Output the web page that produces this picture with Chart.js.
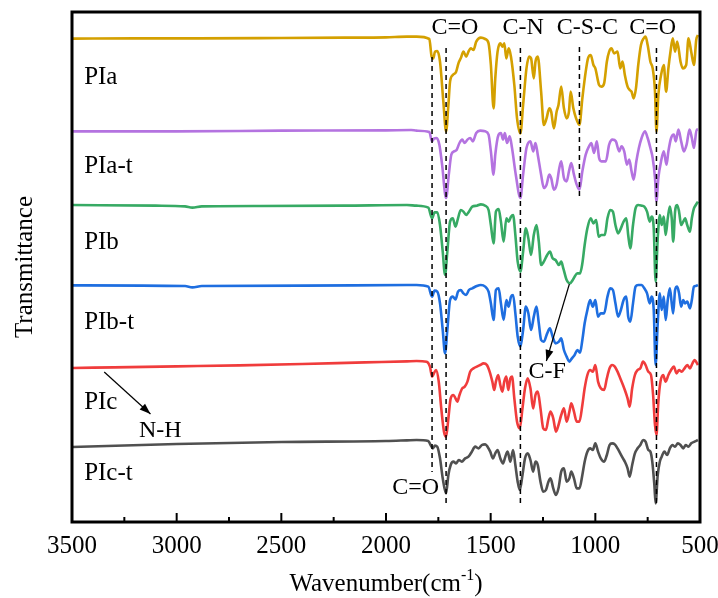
<!DOCTYPE html>
<html lang="en">
<head>
    <meta charset="UTF-8">
    <title>FTIR spectra PIa - PIc-t</title>
    <script src="https://cdn.jsdelivr.net/npm/chart.js@4.4.0/dist/chart.umd.min.js"></script>
    <style>
        * { margin: 0; padding: 0; box-sizing: border-box; }
        body { background: #fff; }
        #wrap { width: 718px; height: 598px; }
    </style>
</head>
<body>
    <div id="wrap"><canvas id="ftir" width="718" height="598"></canvas></div>

    <script>
        // wavenumbers (cm-1) and transmittance (a.u., before stacking offset)
        const wnPIa = [3500,3200,2900,2500,2200,2000,1900,1854,1793,1782,1774,1766,1755,1742,1726,1713,1702,1694,1681,1665,1654,1643,1630,1617,1606,1595,1582,1569,1547,1526,1510,1499,1486,1478,1467,1454,1444,1435,1425,1414,1403,1387,1374,1358,1345,1329,1316,1307,1294,1286,1275,1259,1246,1233,1220,1211,1198,1185,1176,1163,1150,1137,1126,1118,1105,1092,1076,1062,1046,1035,1022,1009,1000,982,971,958,945,934,923,910,894,881,870,859,846,836,827,817,806,795,782,769,760,750,737,726,715,708,699,686,673,662,651,641,630,619,609,593,582,566,555,542,529,518,510];
        const tPIa = [359,360,360,361,362,363,365,365,358,305,300,320,322,290,170,80,160,230,250,260,285,300,320,305,320,330,325,350,362,358,345,280,150,240,320,345,335,345,300,330,305,220,120,75,160,270,305,300,240,290,305,200,100,120,150,140,90,140,160,215,150,120,140,200,150,120,100,180,260,300,310,280,270,220,215,225,290,320,330,315,320,270,290,250,215,205,200,180,210,280,340,360,365,340,290,270,200,80,190,250,280,200,270,320,360,320,350,290,270,280,360,320,280,355,370];

        const wnPIat = [3500,3000,2500,2000,1880,1854,1793,1780,1771,1758,1745,1732,1713,1700,1688,1675,1662,1649,1636,1624,1611,1598,1585,1569,1550,1526,1510,1499,1486,1478,1462,1451,1441,1432,1422,1409,1398,1380,1358,1345,1329,1310,1297,1286,1275,1259,1246,1233,1220,1211,1198,1185,1172,1163,1150,1137,1126,1115,1102,1089,1076,1062,1046,1030,1019,1006,993,982,971,950,934,918,902,886,875,862,849,838,827,817,804,792,779,763,750,737,726,715,708,699,686,673,660,651,638,625,616,603,590,577,564,550,539,529,516,510];
        const tPIat = [360,360,362,363,364,362,358,330,338,340,320,260,160,230,290,300,305,325,335,325,335,340,330,355,362,360,350,300,230,290,350,355,335,355,325,345,310,230,160,230,310,330,300,325,290,230,190,200,230,220,185,200,250,270,220,210,240,265,230,200,185,240,290,315,325,295,330,280,270,270,320,335,330,300,315,300,260,275,240,215,270,310,340,360,340,310,280,220,150,220,270,300,260,300,340,350,330,365,330,300,320,365,340,310,365,365];

        const wnPIb = [3500,3100,2960,2925,2880,2600,2200,1900,1854,1798,1780,1768,1755,1742,1729,1718,1707,1694,1681,1668,1656,1643,1630,1617,1604,1588,1566,1547,1526,1510,1499,1486,1475,1462,1451,1438,1425,1414,1403,1393,1382,1371,1358,1345,1332,1320,1307,1294,1281,1270,1259,1246,1230,1217,1204,1190,1174,1163,1153,1137,1121,1108,1099,1086,1073,1062,1051,1038,1022,1009,996,984,971,955,942,929,916,904,891,878,865,852,843,833,820,808,795,779,766,753,740,731,721,712,702,692,683,673,664,654,644,635,628,619,609,600,590,580,571,561,548,539,529,520,510];
        const tPIb = [340,338,336,332,336,337,338,340,338,332,300,318,318,280,200,130,200,290,300,275,300,325,320,310,320,335,338,342,338,325,280,225,320,328,290,230,300,290,305,310,250,170,140,200,270,240,190,250,280,230,160,170,190,200,180,175,160,170,150,115,105,115,125,135,135,165,220,270,300,285,295,245,250,250,300,325,320,280,255,270,290,300,250,210,280,330,340,338,335,320,290,305,270,110,240,310,280,305,250,300,335,300,230,320,340,320,280,290,300,280,260,300,330,340,350];

        const wnPIbt = [3500,2960,2925,2880,2400,1900,1854,1798,1780,1768,1755,1742,1729,1718,1707,1694,1681,1668,1656,1643,1630,1617,1604,1588,1566,1547,1526,1510,1499,1486,1475,1462,1451,1438,1425,1414,1403,1393,1382,1371,1358,1345,1332,1320,1307,1294,1281,1270,1259,1246,1230,1217,1204,1190,1174,1163,1150,1137,1124,1112,1099,1086,1073,1062,1051,1038,1025,1012,1000,987,974,958,942,929,916,904,891,878,865,852,843,833,820,808,795,779,766,753,740,731,721,712,702,692,683,673,664,654,644,635,628,619,609,600,590,580,571,561,548,539,529,520,510];
        const tPIbt = [354,352,348,352,353,355,355,350,320,338,335,300,220,150,220,310,320,312,335,340,330,325,340,345,352,355,350,335,300,250,340,345,300,250,310,290,320,325,270,200,170,220,290,270,220,260,290,240,190,185,210,225,200,180,185,195,160,140,125,135,145,160,152,190,240,280,310,290,310,260,270,270,320,345,340,300,260,280,310,320,260,245,300,350,355,355,345,330,300,320,280,115,240,330,280,320,250,310,345,300,270,340,350,330,290,310,300,305,285,310,350,352,355];

        const wnPIc = [3500,3300,3000,2700,2400,2100,1900,1854,1806,1790,1780,1771,1761,1748,1736,1723,1713,1702,1691,1678,1668,1659,1649,1636,1624,1611,1598,1582,1566,1550,1534,1518,1505,1492,1483,1475,1464,1454,1444,1435,1425,1416,1406,1398,1387,1374,1361,1348,1336,1323,1310,1297,1286,1275,1262,1249,1236,1224,1214,1201,1188,1176,1163,1150,1137,1124,1115,1102,1089,1076,1062,1051,1038,1025,1012,1000,987,974,958,945,932,920,907,894,881,868,859,846,836,824,811,798,785,772,760,747,734,724,715,708,699,689,676,664,651,638,625,612,600,587,574,561,548,536,526,510];
        const tPIc = [331,333,336,339,343,348,351,352,350,335,305,315,325,290,210,140,125,180,240,250,240,230,250,270,275,290,320,330,335,340,345,340,320,290,265,290,310,280,260,290,305,265,300,305,240,170,150,210,270,300,270,210,250,260,210,150,145,180,200,180,140,160,190,210,170,200,225,200,170,170,220,270,310,325,320,340,290,270,265,300,330,340,335,320,300,280,265,240,215,270,310,325,330,350,340,320,310,250,160,130,230,290,310,290,310,325,335,315,325,320,330,340,330,345,355,340];

        const wnPIct = [3500,3000,2500,2000,1900,1854,1798,1787,1777,1766,1755,1742,1729,1713,1702,1691,1678,1665,1652,1638,1622,1606,1590,1574,1558,1542,1526,1515,1502,1489,1478,1467,1454,1441,1430,1419,1406,1393,1382,1371,1361,1348,1336,1323,1310,1297,1286,1275,1262,1249,1236,1224,1214,1201,1188,1176,1163,1150,1137,1124,1115,1102,1089,1076,1062,1051,1038,1025,1012,1000,987,974,958,945,932,920,907,894,881,868,859,846,836,824,811,798,785,772,760,747,737,728,718,712,702,692,683,670,657,644,632,619,606,593,580,568,555,542,526,510];
        const tPIct = [334,343,349,352,354,355,352,340,330,338,335,300,240,195,250,280,290,285,295,290,300,305,320,335,330,340,342,335,320,300,315,325,300,285,305,320,290,325,280,230,205,250,300,315,295,260,290,280,230,200,205,230,240,210,190,210,260,270,230,240,260,240,210,210,250,290,320,330,325,345,320,300,290,310,340,345,342,330,315,300,290,270,245,280,315,330,340,355,350,325,320,290,220,165,250,290,305,320,310,330,340,335,345,340,330,340,335,345,350,355];

        const sampleNames = ['PIa', 'PIa-t', 'PIb', 'PIb-t', 'PIc', 'PIc-t'];
        const stackOffsets = [1200, 921, 720, 465, 240, 0];
        const lineColors = ['#d4a000', '#b473e0', '#37aa64', '#1e6ee0', '#f03c3c', '#505050'];

        const xTickValues = [3500, 3000, 2500, 2000, 1500, 1000, 500];

        // annotations (wavenumber, a.u.)
        const nameLabelY = [1444, 1177, 949, 709, 469, 256];
        const peakLines = [[1780, 1504, 259], [1713, 1531, 160], [1358, 1531, 166], [1076, 1534, 1081], [708, 1531, 160]];
        const bondLabels = [
            ['C=O', 1671, 1591], ['C-N', 1345, 1591], ['C-S-C', 1038, 1591], ['C=O', 726, 1591],
            ['C=O', 1858, 211], ['C-F', 1230, 559], ['N-H', 3078, 382]
        ];
        const arrows = [[3346, 559, 3125, 433], [1124, 823, 1234, 592]];

        const spectra = [[wnPIa, tPIa], [wnPIat, tPIat], [wnPIb, tPIb], [wnPIbt, tPIbt], [wnPIc, tPIc], [wnPIct, tPIct]];

        const serif = "'Liberation Serif', 'Times New Roman', serif";

        const datasets = spectra.map(([wn, t], i) => ({
            label: sampleNames[i],
            data: wn.map((w, k) => ({ x: w, y: t[k] + stackOffsets[i] })),
            borderColor: lineColors[i],
            borderWidth: 2.6,
            pointRadius: 0,
            cubicInterpolationMode: 'monotone',
            fill: false
        }));

        function arrowHead(ctx, x1, y1, x2, y2) {
            const a = Math.atan2(y2 - y1, x2 - x1);
            const len = 11, w = 4;
            ctx.beginPath();
            ctx.moveTo(x2, y2);
            ctx.lineTo(x2 - len * Math.cos(a) + w * Math.sin(a), y2 - len * Math.sin(a) - w * Math.cos(a));
            ctx.lineTo(x2 - len * Math.cos(a) - w * Math.sin(a), y2 - len * Math.sin(a) + w * Math.cos(a));
            ctx.closePath();
            ctx.fill();
        }

        const decorations = {
            id: 'decorations',
            afterDraw(chart) {
                const { ctx, chartArea: a, scales: { x, y } } = chart;
                ctx.save();

                // dashed peak markers
                ctx.strokeStyle = '#000';
                ctx.lineWidth = 1.5;
                ctx.setLineDash([5, 4]);
                peakLines.forEach(([w, v1, v2]) => {
                    const px = x.getPixelForValue(w);
                    ctx.beginPath();
                    ctx.moveTo(px, y.getPixelForValue(v1));
                    ctx.lineTo(px, y.getPixelForValue(v2));
                    ctx.stroke();
                });
                ctx.setLineDash([]);

                // frame + inward ticks
                ctx.lineWidth = 3;
                ctx.strokeRect(a.left, a.top, a.right - a.left, a.bottom - a.top);
                ctx.lineWidth = 2;
                for (let w = 750; w < 3500; w += 250) {
                    const px = x.getPixelForValue(w);
                    const len = w % 500 === 0 ? 9 : 5;
                    ctx.beginPath();
                    ctx.moveTo(px, a.bottom);
                    ctx.lineTo(px, a.bottom - len);
                    ctx.stroke();
                }

                // text
                ctx.fillStyle = '#000';
                ctx.font = '25px ' + serif;
                ctx.textBaseline = 'middle';
                ctx.textAlign = 'left';
                sampleNames.forEach((n, i) => {
                    ctx.fillText(n, x.getPixelForValue(3442), y.getPixelForValue(nameLabelY[i]));
                });
                ctx.font = '24px ' + serif;
                ctx.textAlign = 'center';
                bondLabels.forEach(([t, w, v]) => {
                    ctx.fillText(t, x.getPixelForValue(w), y.getPixelForValue(v));
                });

                // arrows
                ctx.lineWidth = 1.2;
                arrows.forEach(([w1, v1, w2, v2]) => {
                    const x1 = x.getPixelForValue(w1), y1 = y.getPixelForValue(v1);
                    const x2 = x.getPixelForValue(w2), y2 = y.getPixelForValue(v2);
                    ctx.beginPath();
                    ctx.moveTo(x1, y1);
                    ctx.lineTo(x2, y2);
                    ctx.stroke();
                    arrowHead(ctx, x1, y1, x2, y2);
                });

                // x axis title with superscript
                const main = 'Wavenumber(cm', sup = '-1', tail = ')';
                ctx.font = '25px ' + serif;
                const wMain = ctx.measureText(main).width;
                const wTail = ctx.measureText(tail).width;
                ctx.font = '16px ' + serif;
                const wSup = ctx.measureText(sup).width;
                let tx = (a.left + a.right) / 2 - (wMain + wSup + wTail) / 2;
                const ty = chart.height - 7;
                ctx.textAlign = 'left';
                ctx.textBaseline = 'alphabetic';
                ctx.font = '25px ' + serif;
                ctx.fillText(main, tx, ty);
                tx += wMain;
                ctx.font = '16px ' + serif;
                ctx.fillText(sup, tx, ty - 11);
                tx += wSup;
                ctx.font = '25px ' + serif;
                ctx.fillText(tail, tx, ty);

                ctx.restore();
            }
        };

        new Chart(document.getElementById('ftir'), {
            type: 'line',
            data: { datasets },
            options: {
                responsive: false,
                animation: false,
                layout: { padding: { top: 12, right: 18, left: 0, bottom: 0 } },
                plugins: { legend: { display: false }, tooltip: { enabled: false } },
                scales: {
                    x: {
                        type: 'linear',
                        reverse: true,
                        min: 500,
                        max: 3500,
                        afterBuildTicks: s => { s.ticks = xTickValues.map(v => ({ value: v })); },
                        ticks: {
                            autoSkip: false, maxRotation: 0, color: '#000', padding: 9,
                            font: { family: serif, size: 25 },
                            callback: v => String(v)
                        },
                        grid: { display: false, drawTicks: false },
                        border: { display: false },
                        afterFit: s => { s.height = 76; s.paddingLeft = 0; s.paddingRight = 0; }
                    },
                    y: {
                        min: 109,
                        max: 1639,
                        ticks: { display: false },
                        grid: { display: false, drawTicks: false },
                        border: { display: false },
                        title: { display: true, text: 'Transmittance', color: '#000', padding: { top: 10, bottom: 0 }, font: { family: serif, size: 25 } },
                        afterFit: s => { s.width = 72; }
                    }
                }
            },
            plugins: [decorations]
        });
    </script>
</body>
</html>
